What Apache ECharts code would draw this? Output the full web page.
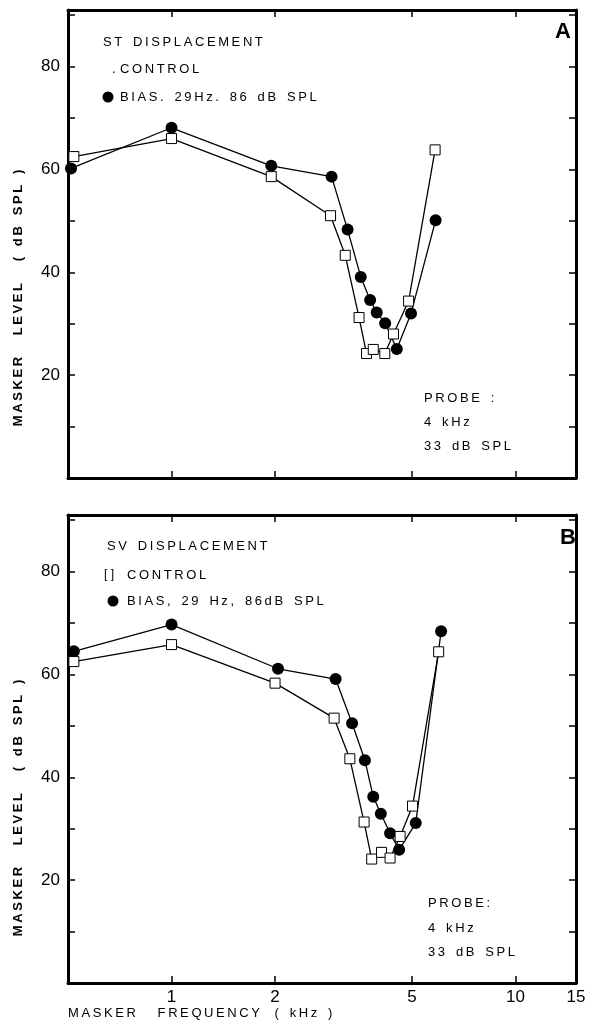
<!DOCTYPE html>
<html>
<head>
<meta charset="utf-8">
<script src="https://cdn.jsdelivr.net/npm/echarts/dist/echarts.min.js"></script>
<style>
  html, body { margin: 0; padding: 0; background: #fff; }
  #main { width: 589px; height: 1023px; }
</style>
</head>
<body>
<div id="main"></div>
<script>
// panel A: ST displacement
var freqA_bias = [0.51, 1.0, 1.95, 2.92, 3.25, 3.55, 3.78, 3.95, 4.18, 4.52, 4.97, 5.86];
var levelA_bias = [60.2, 68.1, 60.7, 58.6, 48.3, 39.1, 34.6, 32.2, 30.1, 25.1, 32.0, 50.1];
var freqA_ctrl = [0.52, 1.0, 1.95, 2.9, 3.2, 3.51, 3.69, 3.86, 4.17, 4.42, 4.89, 5.84];
var levelA_ctrl = [62.5, 66.0, 58.6, 51.0, 43.3, 31.2, 24.2, 25.0, 24.2, 28.0, 34.4, 63.8];

// panel B: SV displacement
var freqB_bias = [0.52, 1.0, 2.04, 3.0, 3.35, 3.65, 3.86, 4.06, 4.32, 4.59, 5.13, 6.08];
var levelB_bias = [64.5, 69.7, 61.1, 59.1, 50.5, 43.3, 36.2, 32.9, 29.1, 25.9, 31.1, 68.4];
var freqB_ctrl = [0.52, 1.0, 2.0, 2.97, 3.30, 3.63, 3.82, 4.08, 4.32, 4.62, 5.02, 5.98];
var levelB_ctrl = [62.5, 65.8, 58.3, 51.5, 43.6, 31.3, 24.1, 25.4, 24.3, 28.5, 34.4, 64.4];

var xTicks = [1, 2, 5, 10];
var xLabels = [1, 2, 5, 10, 15];
var yLabels = [20, 40, 60, 80];

function pairs(xs, ys) {
  return xs.map(function (x, i) { return [x, ys[i]]; });
}

// the old typeset labels are widely letter-spaced: thin space between letters,
// wider gap between words
function spaced(s) {
  return s.split(' ').map(function (w) {
    return w.split('').join('\u2009');
  }).join('   ');
}

var chart = echarts.init(document.getElementById('main'));

var lineW = 3;
var font = 'Liberation Sans';

function xAxisFor(grid, pos, labels) {
  return {
    type: 'log', logBase: 10, min: 0.5, max: 15, gridIndex: grid, position: pos,
    axisLine: { onZero: false, lineStyle: { color: '#000', width: lineW } },
    axisTick: { inside: true, length: 7, customValues: xTicks, lineStyle: { color: '#000', width: 1.5 } },
    axisLabel: labels ? {
      customValues: xLabels, color: '#000', fontSize: 17, fontFamily: font, margin: 6,
      formatter: function (v) { return String(Math.round(v)); }
    } : { show: false },
    splitLine: { show: false },
    minorTick: { show: false }
  };
}

function yAxisFor(grid, pos, labels) {
  return {
    type: 'value', min: 0, max: 91, interval: 10, gridIndex: grid, position: pos,
    axisLine: { show: true, lineStyle: { color: '#000', width: lineW } },
    axisTick: { inside: true, length: 7, lineStyle: { color: '#000', width: 1.5 } },
    axisLabel: labels ? {
      color: '#000', fontSize: 17, fontFamily: font, margin: 8,
      formatter: function (v) { return yLabels.indexOf(v) >= 0 ? String(v) : ''; }
    } : { show: false },
    splitLine: { show: false }
  };
}

function seriesFor(name, data, xi, yi, filled) {
  return {
    name: name, type: 'line', xAxisIndex: xi, yAxisIndex: yi, data: data,
    symbol: filled ? 'circle' : 'rect',
    symbolSize: filled ? 12 : 10,
    itemStyle: filled ? { color: '#000' } : { color: '#fff', borderColor: '#000', borderWidth: 1 },
    lineStyle: { color: '#000', width: 1.3 },
    animation: false, z: filled ? 2 : 3
  };
}

function txt(x, y, s, extra, rot) {
  var st = Object.assign({ text: s, fill: '#000', fontSize: 13, fontFamily: font, verticalAlign: 'middle' }, extra || {});
  return { type: 'text', x: x, y: y, rotation: rot || 0, style: st };
}

var yTitle = spaced('MASKER') + '      ' + spaced('LEVEL') + '      ' + spaced('( dB SPL )');

chart.setOption({
  animation: false,
  grid: [
    { left: 68, right: 13, top: 10, height: 468 },
    { left: 68, right: 13, top: 515, height: 468 }
  ],
  xAxis: [
    xAxisFor(0, 'bottom', false),
    xAxisFor(0, 'top', false),
    xAxisFor(1, 'bottom', true),
    xAxisFor(1, 'top', false)
  ],
  yAxis: [
    yAxisFor(0, 'left', true),
    yAxisFor(0, 'right', false),
    yAxisFor(1, 'left', true),
    yAxisFor(1, 'right', false)
  ],
  series: [
    seriesFor('A bias', pairs(freqA_bias, levelA_bias), 0, 0, true),
    seriesFor('A control', pairs(freqA_ctrl, levelA_ctrl), 0, 0, false),
    seriesFor('B bias', pairs(freqB_bias, levelB_bias), 2, 2, true),
    seriesFor('B control', pairs(freqB_ctrl, levelB_ctrl), 2, 2, false)
  ],
  graphic: [
    // panel A notes
    txt(103, 42, spaced('ST DISPLACEMENT')),
    txt(112, 69, '.'),
    txt(120, 69, spaced('CONTROL')),
    { type: 'circle', shape: { cx: 108, cy: 97, r: 5.5 }, style: { fill: '#000' } },
    txt(120, 97, spaced('BIAS. 29Hz. 86 dB SPL')),
    txt(424, 398, spaced('PROBE :')),
    txt(424, 422, spaced('4 kHz')),
    txt(424, 446, spaced('33 dB SPL')),
    txt(555, 32, 'A', { fontSize: 22, fontWeight: 'bold' }),
    // panel B notes
    txt(107, 546, spaced('SV DISPLACEMENT')),
    txt(104, 575, '[ ]', { fontSize: 12 }),
    txt(127, 575, spaced('CONTROL')),
    { type: 'circle', shape: { cx: 113, cy: 601, r: 5.5 }, style: { fill: '#000' } },
    txt(127, 601, spaced('BIAS, 29 Hz, 86dB SPL')),
    txt(428, 903, spaced('PROBE:')),
    txt(428, 928, spaced('4 kHz')),
    txt(428, 952, spaced('33 dB SPL')),
    txt(560, 538, 'B', { fontSize: 22, fontWeight: 'bold' }),
    // axis titles
    txt(18, 298, yTitle, { align: 'center', fontSize: 13, fontWeight: 'bold' }, Math.PI / 2),
    txt(18, 808, yTitle, { align: 'center', fontSize: 13, fontWeight: 'bold' }, Math.PI / 2),
    txt(68, 1013, spaced('MASKER') + '      ' + spaced('FREQUENCY') + '    ' + spaced('( kHz )'), { fontSize: 13 })
  ]
});
</script>
</body>
</html>
